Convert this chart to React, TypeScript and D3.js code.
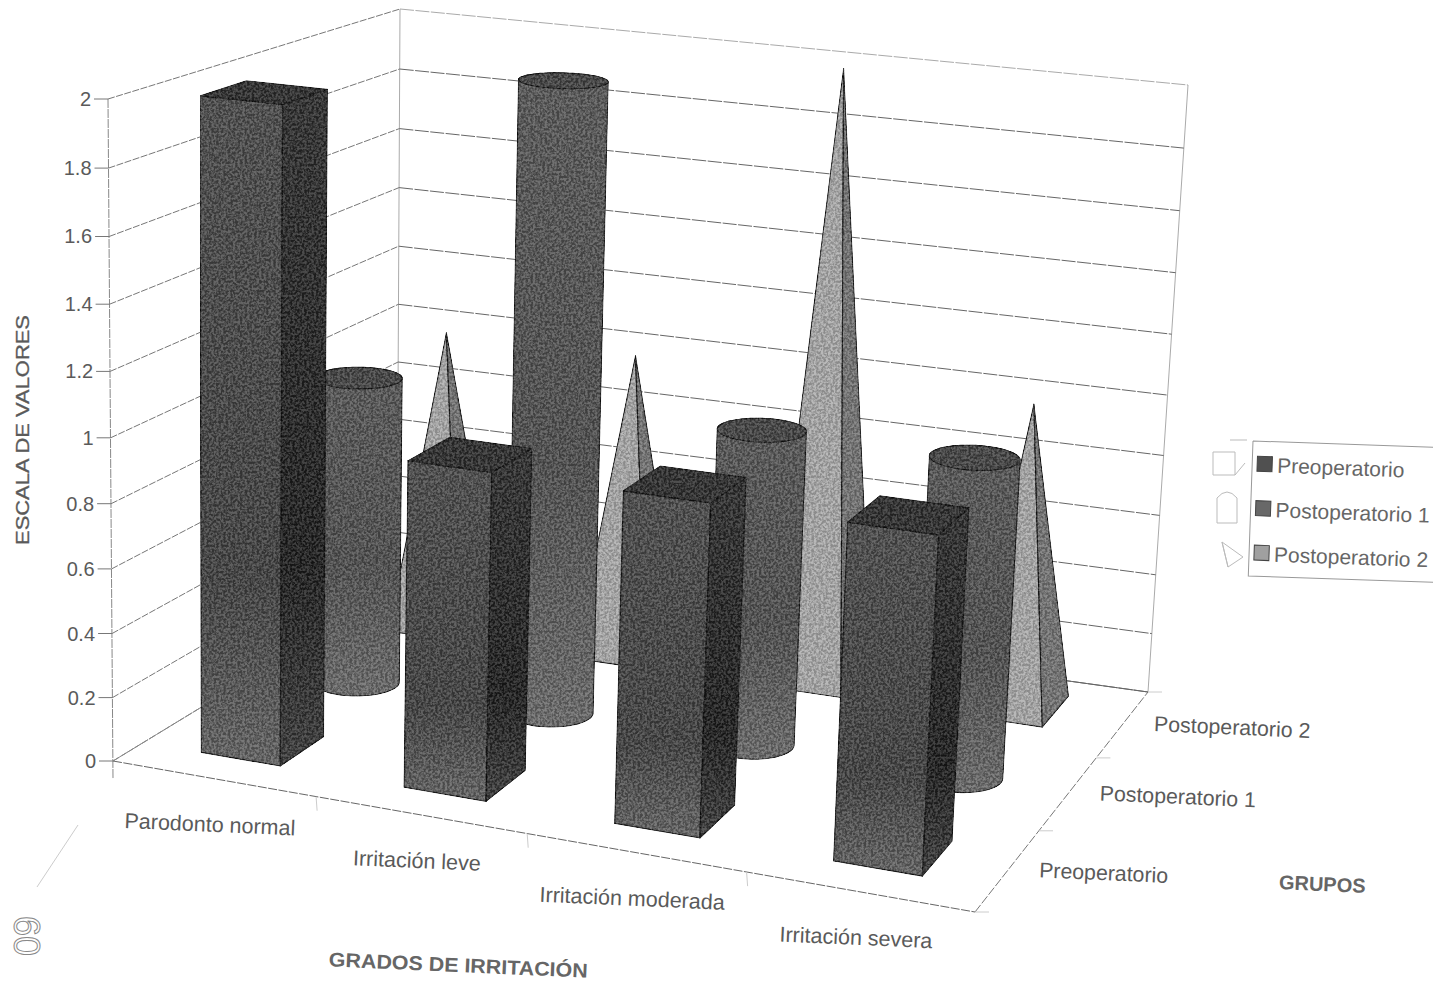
import React from "react";
import * as d3 from "d3";

const categories = ["Parodonto normal", "Irritación leve", "Irritación moderada", "Irritación severa"];
const seriesNames = ["Preoperatorio", "Postoperatorio 1", "Postoperatorio 2"];
const preoperatorio = [2, 1, 1, 1];
const postoperatorio1 = [1, 2, 1, 1];
const postoperatorio2 = [1, 1, 2, 1];
const valueTicks = [0, 0.2, 0.4, 0.6, 0.8, 1, 1.2, 1.4, 1.6, 1.8, 2];

type P = [number, number];

// Screen positions of the plot box corners: [category, depth, height] -> pixel.
const boxCorners: [number, number, number, number, number][] = [
  [0, 0, 0, 113, 761],
  [1, 0, 0, 975, 912],
  [1, 1, 0, 1148, 692],
  [0, 1, 0, 397, 588],
  [0, 0, 1, 108, 99],
  [0, 1, 1, 400, 9],
  [1, 1, 1, 1188, 85],
  [1, 0, 1, 1012, 196],
];

// Least-squares fit of a 3D-to-2D projective camera through the corners.
function fitCamera() {
  const rows: number[][] = [];
  const rhs: number[] = [];
  boxCorners.forEach(([u, v, w, px, py]) => {
    const x = px / 1000;
    const y = py / 1000;
    rows.push([u, v, w, 1, 0, 0, 0, 0, -x * u, -x * v, -x * w]);
    rhs.push(x);
    rows.push([0, 0, 0, 0, u, v, w, 1, -y * u, -y * v, -y * w]);
    rhs.push(y);
  });
  const n = 11;
  const m = d3.range(n).map((i) =>
    d3.range(n + 1).map((j) =>
      j < n ? d3.sum(rows, (r) => r[i] * r[j]) : d3.sum(rows, (r, k) => r[i] * rhs[k])
    )
  );
  for (let c = 0; c < n; c++) {
    let piv = c;
    for (let r = c + 1; r < n; r++) if (Math.abs(m[r][c]) > Math.abs(m[piv][c])) piv = r;
    [m[c], m[piv]] = [m[piv], m[c]];
    for (let r = 0; r < n; r++) {
      if (r === c) continue;
      const f = m[r][c] / m[c][c];
      for (let k = c; k <= n; k++) m[r][k] -= f * m[c][k];
    }
  }
  return m.map((row, i) => row[n] / row[i]);
}
const cam = fitCamera();

function camera(u: number, v: number, w: number): P {
  const d = cam[8] * u + cam[9] * v + cam[10] * w + 1;
  return [
    (1000 * (cam[0] * u + cam[1] * v + cam[2] * w + cam[3])) / d,
    (1000 * (cam[4] * u + cam[5] * v + cam[6] * w + cam[7])) / d,
  ];
}

// What the camera misses at each corner; blended back in so the box lands on its corners.
const residuals = boxCorners.map(([u, v, w, px, py]) => {
  const q = camera(u, v, w);
  return { u, v, w, dx: px - q[0], dy: py - q[1] };
});

const uScale = d3.scaleLinear().domain([0, categories.length]).range([0, 1]);
const vScale = d3.scaleLinear().domain([0, seriesNames.length]).range([0, 1]);
const wScale = d3.scaleLinear().domain([0, 2]).range([0, 1]);

// Project chart coordinates (category position, series position, value) to pixels.
function project(cat: number, ser: number, val: number): P {
  const u = uScale(cat);
  const v = vScale(ser);
  const w = wScale(val);
  const q = camera(u, v, w);
  residuals.forEach((r) => {
    const k = (r.u ? u : 1 - u) * (r.v ? v : 1 - v) * (r.w ? w : 1 - w);
    q[0] += k * r.dx;
    q[1] += k * r.dy;
  });
  return q;
}

const poly = (pts: P[]) => "M" + pts.map((p) => `${p[0].toFixed(1)},${p[1].toFixed(1)}`).join("L") + "Z";
const seg = (a: P, b: P) => `M${a[0].toFixed(1)},${a[1].toFixed(1)}L${b[0].toFixed(1)},${b[1].toFixed(1)}`;

const BAR_U = 0.197;
const BAR_V = 0.22;
const CYL_U = 0.2;
const CYL_V = 0.21;
const PYR_U = 0.19;
const PYR_V = 0.24;
const textFont = "'Liberation Sans', Arial, sans-serif";
const labelColor = "#5a5a5a";
const edge = "#222";

function Bar({ cat, ser, val }: { cat: number; ser: number; val: number }) {
  const c = cat + 0.49;
  const s = ser + 0.5;
  const fl = (h: number) => project(c - BAR_U, s - BAR_V, h);
  const fr = (h: number) => project(c + BAR_U, s - BAR_V, h);
  const br = (h: number) => project(c + BAR_U, s + BAR_V, h);
  const bl = (h: number) => project(c - BAR_U, s + BAR_V, h);
  return (
    <g stroke={edge} strokeWidth={1.2} strokeLinejoin="round">
      <path d={poly([fl(0), fr(0), fr(val), fl(val)])} fill="url(#barFront)" />
      <path d={poly([fr(0), br(0), br(val), fr(val)])} fill="url(#barSide)" />
      <path d={poly([fl(val), fr(val), br(val), bl(val)])} fill="#383838" />
    </g>
  );
}

function Cylinder({ cat, ser, val }: { cat: number; ser: number; val: number }) {
  const c = cat + 0.485;
  const s = ser + 0.5;
  const ring = (h: number) =>
    d3.range(72).map((i) => {
      const a = (i / 72) * 2 * Math.PI;
      return project(c + CYL_U * Math.cos(a), s + CYL_V * Math.sin(a), h);
    });
  const hull = d3.polygonHull([...ring(0), ...ring(val)] as [number, number][]) as P[];
  return (
    <g stroke={edge} strokeWidth={1.1} strokeLinejoin="round">
      <path d={poly(hull)} fill="url(#cylSide)" />
      <path d={poly(ring(val))} fill="#4a4a4a" />
    </g>
  );
}

function Pyramid({ cat, ser, val }: { cat: number; ser: number; val: number }) {
  const c = cat + 0.47;
  const s = ser + 0.54;
  const apex = project(c, s, val);
  const fl = project(c - PYR_U, s - PYR_V, 0);
  const fr = project(c + PYR_U, s - PYR_V, 0);
  const br = project(c + PYR_U, s + PYR_V, 0);
  return (
    <g stroke={edge} strokeWidth={1.1} strokeLinejoin="round">
      <path d={poly([fl, fr, apex])} fill="#a2a2a2" />
      <path d={poly([fr, br, apex])} fill="#747474" />
    </g>
  );
}

function Frame() {
  const nC = categories.length;
  const nS = seriesNames.length;
  const wallLines = valueTicks.map((t) => {
    const a = project(0, 0, t);
    const b = project(0, nS, t);
    const c = project(nC, nS, t);
    return (
      <g key={t}>
        <path d={seg(a, b)} stroke="#777" strokeWidth={1} strokeDasharray="7 1.5" fill="none" />
        <path
          d={seg(b, c)}
          stroke={t === 2 ? "#aaa" : "#666"}
          strokeWidth={1}
          strokeDasharray="14 1.5"
          fill="none"
        />
        <path d={seg([a[0] - 14, a[1]], a)} stroke="#777" strokeWidth={1} />
        <text x={a[0] - 17} y={a[1] + 7} textAnchor="end" fontSize={20} fill={labelColor}>
          {t}
        </text>
      </g>
    );
  });
  const fl = project(0, 0, 0);
  const fr = project(nC, 0, 0);
  const br = project(nC, nS, 0);
  const bl = project(0, nS, 0);
  return (
    <g fontFamily={textFont}>
      <path d={seg(project(0, 0, 2), [fl[0], fl[1] + 18])} stroke="#888" fill="none" strokeDasharray="9 1" />
      <path d={seg(bl, project(0, nS, 2))} stroke="#aaa" fill="none" />
      <path d={seg(br, project(nC, nS, 2))} stroke="#aaa" fill="none" />
      {wallLines}
      <path d={seg(fl, fr)} stroke="#666" strokeDasharray="9 1.5" fill="none" />
      <path d={seg(fr, br)} stroke="#777" strokeDasharray="9 2" fill="none" />
      <path d={seg(fl, bl)} stroke="#888" strokeDasharray="9 1.5" fill="none" />
      <path d={seg(bl, br)} stroke="#666" fill="none" />
      {d3.range(1, nC).map((i) => {
        const p = project(i, 0, 0);
        return <path key={i} d={seg(p, [p[0] + 1, p[1] + 14])} stroke="#ccc" fill="none" />;
      })}
      {d3.range(0, nS + 1).map((i) => {
        const p = project(nC, i, 0);
        return <path key={i} d={seg(p, [p[0] + 14, p[1]])} stroke="#ccc" fill="none" />;
      })}
      {categories.map((name, i) => {
        const p = project(i + 0.5, 0, 0);
        const x = p[0] - 4;
        const y = p[1] + 53;
        return (
          <text
            key={name}
            x={x}
            y={y}
            textAnchor="middle"
            fontSize={21.5}
            fill={labelColor}
            transform={`rotate(2.5 ${x} ${y})`}
          >
            {name}
          </text>
        );
      })}
      {seriesNames.map((name, i) => {
        const p = project(nC, i + 0.5, 0);
        const x = p[0] + 31;
        const y = p[1] + 7;
        return (
          <text
            key={name}
            x={x}
            y={y}
            fontSize={21.3}
            fill={labelColor}
            transform={`rotate(2.5 ${x} ${y})`}
          >
            {name}
          </text>
        );
      })}
      <text
        transform="translate(29,430) rotate(-90)"
        textAnchor="middle"
        fontSize={18}
        textLength={230}
        lengthAdjust="spacingAndGlyphs"
        fill={labelColor}
        stroke={labelColor}
        strokeWidth={0.3}
      >
        ESCALA DE VALORES
      </text>
      <text
        transform="translate(458,972) rotate(2.5)"
        textAnchor="middle"
        fontSize={20}
        fontWeight={700}
        textLength={259}
        lengthAdjust="spacingAndGlyphs"
        fill="#666"
      >
        GRADOS DE IRRITACIÓN
      </text>
      <text transform="translate(1322,891) rotate(2.5)" textAnchor="middle" fontSize={20} fontWeight={700} fill="#666">
        GRUPOS
      </text>
    </g>
  );
}

const legendFill = ["#505050", "#686868", "#a0a0a0"];

function Legend() {
  return (
    <g fontFamily={textFont}>
      <g transform="rotate(2 1253 441)">
        <path d="M1253,441H1445M1253,441V576H1445" stroke="#999" fill="none" />
        {seriesNames.map((name, i) => (
          <g key={name} transform={`translate(1258,${456 + i * 44.5})`}>
            <rect width={15} height={15} fill={legendFill[i]} stroke="#444" />
            <text x={20} y={16} fontSize={21} fill="#666">
              {name}
            </text>
          </g>
        ))}
      </g>
      <g stroke="#bbb" fill="none">
        <path d="M1213,452H1235V475H1213ZM1235,475L1245,463M1230,440H1247" />
        <path d="M1217,498V523H1237V498M1217,498Q1227,486 1237,498" />
        <path d="M1222,542L1243,557L1228,567ZM1222,542L1228,567" />
      </g>
    </g>
  );
}

export default function App() {
  const order = [2, 1, 0];
  const values = [preoperatorio, postoperatorio1, postoperatorio2];
  return (
    <svg
      width={1433}
      height={981}
      style={{ position: "absolute", left: 0, top: 0, background: "#fff" }}
    >
      <defs>
        <linearGradient id="barFront" x1="0" x2="0" y1="0" y2="1">
          <stop offset="0" stopColor="#525252" />
          <stop offset="0.72" stopColor="#484848" />
          <stop offset="1" stopColor="#666" />
        </linearGradient>
        <linearGradient id="barSide" x1="0" x2="0" y1="0" y2="1">
          <stop offset="0" stopColor="#3a3a3a" />
          <stop offset="0.7" stopColor="#2a2a2a" />
          <stop offset="1" stopColor="#444" />
        </linearGradient>
        <linearGradient id="cylSide" x1="0" x2="0" y1="0" y2="1">
          <stop offset="0" stopColor="#5c5c5c" />
          <stop offset="0.6" stopColor="#545454" />
          <stop offset="1" stopColor="#6c6c6c" />
        </linearGradient>
        <filter id="grain" x="0" y="0" width="100%" height="100%" colorInterpolationFilters="sRGB">
          <feTurbulence type="fractalNoise" baseFrequency="0.42" numOctaves="2" seed="4" />
          <feGaussianBlur stdDeviation="0.6" result="n" />
          <feColorMatrix
            in="n"
            type="matrix"
            values="3.4 0 0 0 -1.2 3.4 0 0 0 -1.2 3.4 0 0 0 -1.2 0 0 0 0 1"
            result="g"
          />
          <feComposite in="SourceGraphic" in2="g" operator="arithmetic" k1="0" k2="1" k3="0.18" k4="-0.09" result="c" />
          <feComposite in="c" in2="SourceAlpha" operator="in" />
        </filter>
      </defs>
      <Frame />
      <g filter="url(#grain)">
        {order.map((ser) => (
          <g key={ser}>
            {values[ser].map((val, cat) => {
              if (ser === 0) return <Bar key={cat} cat={cat} ser={ser} val={val} />;
              if (ser === 1) return <Cylinder key={cat} cat={cat} ser={ser} val={val} />;
              return <Pyramid key={cat} cat={cat} ser={ser} val={val} />;
            })}
          </g>
        ))}
      </g>
      <Legend />
      {/* Handwritten page number in the margin and the pencil stroke above it */}
      <path d="M37,887L78,825" stroke="#ccc" fill="none" />
      <text transform="translate(14,916) rotate(90)" fontFamily={textFont} fontSize={36} fill="#fff" stroke="#888" strokeWidth={1}>
        60
      </text>
    </svg>
  );
}
